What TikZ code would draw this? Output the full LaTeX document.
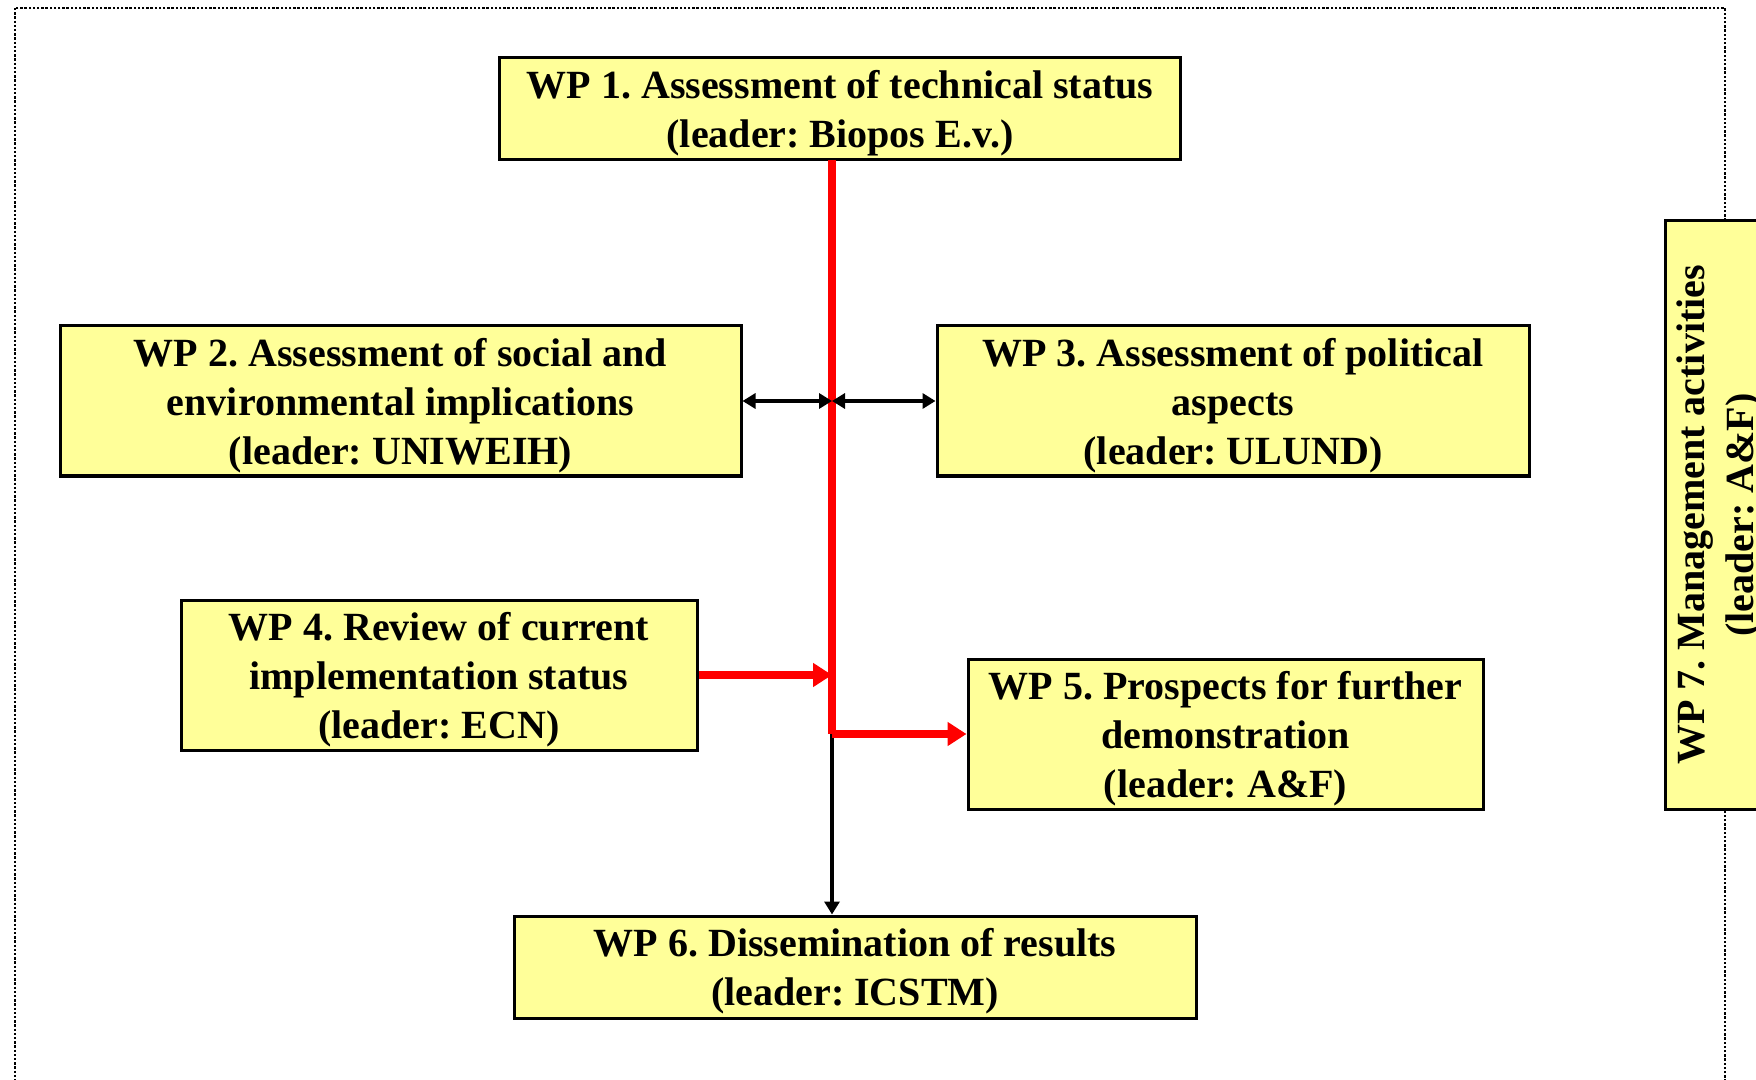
\documentclass[tikz,border=0pt]{standalone}
\usepackage{fontspec}
\setmainfont{Liberation Serif}
\usetikzlibrary{arrows.meta}
\definecolor{wpyellow}{HTML}{FFFF99}
\def\wpunit{0.5pt}
\frenchspacing

\begin{document}
\begin{tikzpicture}[x=\wpunit, y=-\wpunit,
  wp/.style={draw, line width=1.5pt, fill=wpyellow, inner sep=0pt, align=center,
    font=\fontsize{20}{24.5}\selectfont\bfseries, text depth=0pt},
  redline/.style={red, line width=4pt},
  blackline/.style={black, line width=2.2pt},
  bigtip/.tip={Triangle[length=9.5pt, width=11.5pt]},
  smalltip/.tip={Triangle[length=6.5pt, width=7.5pt]}]
  \useasboundingbox (0,0) rectangle (1756,1080);
  \draw[line width=1.2pt, dash pattern=on 1.2pt off 0.9pt] (15,8) rectangle (1725,1120);

  \node[wp, minimum width=340.5pt, minimum height=51pt] (wp1) at (840,109)
    {WP 1. Assessment of technical status\\(leader: Biopos E.v.)};
  \node[wp, minimum width=340.5pt, minimum height=75pt] (wp2) at (400.5,401)
    {WP 2. Assessment of social and\\environmental implications\\(leader: UNIWEIH)};
  \node[wp, minimum width=296pt, minimum height=75pt] (wp3) at (1233,401)
    {WP 3. Assessment of political\\aspects\\(leader: ULUND)};
  \node[wp, minimum width=258pt, minimum height=75pt] (wp4) at (439,675)
    {WP 4. Review of current\\implementation status\\(leader: ECN)};
  \node[wp, minimum width=257.5pt, minimum height=75pt] (wp5) at (1225.5,734)
    {WP 5. Prospects for further\\demonstration\\(leader: A\&F)};
  \node[wp, minimum width=341pt, minimum height=51pt] (wp6) at (855,967)
    {WP 6. Dissemination of results\\(leader: ICSTM)};
  \node[wp, rotate=90, minimum width=294pt, minimum height=50pt] (wp7) at (1715,515)
    {WP 7. Management activities\\(leader: A\&F)};

  \coordinate (spine) at (832,160);
  \coordinate (junction) at (spine |- wp5.west);

  \draw[blackline, -smalltip] (junction) -- (junction |- wp6.north);
  \draw[redline] (spine) -- (junction);
  \draw[redline, -bigtip] (wp4.east) -- (wp4.east -| spine);
  \draw[redline, -bigtip] (junction) -- (wp5.west);
  \draw[blackline, smalltip-smalltip] (wp2.east) -- (wp2.east -| spine);
  \draw[blackline, smalltip-smalltip] (spine |- wp3.west) -- (wp3.west);
\end{tikzpicture}
\end{document}
